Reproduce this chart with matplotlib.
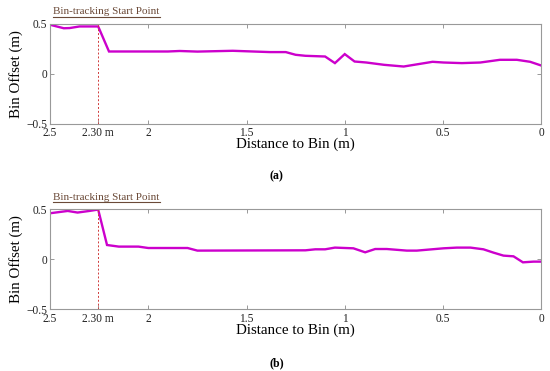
import numpy as np
import matplotlib
matplotlib.use('Agg')
import matplotlib.pyplot as plt
from matplotlib.lines import Line2D

plt.rcParams['font.family'] = ['Liberation Serif', 'DejaVu Serif']

# Panel (a): distance to bin (m) vs bin offset (m)
dist_a = [2.5, 2.46, 2.43, 2.40, 2.35, 2.255, 2.20, 1.90, 1.84, 1.75, 1.57, 1.38, 1.30, 1.25,
          1.20, 1.10, 1.05, 1.00, 0.95, 0.89, 0.80, 0.70, 0.625, 0.553, 0.497, 0.404, 0.31,
          0.21, 0.124, 0.056, 0.0]
offset_a = [0.49, 0.47, 0.455, 0.457, 0.473, 0.473, 0.223, 0.223, 0.228, 0.222, 0.23, 0.217,
            0.217, 0.19, 0.18, 0.173, 0.107, 0.197, 0.123, 0.113, 0.09, 0.073, 0.097, 0.12,
            0.113, 0.107, 0.113, 0.14, 0.14, 0.12, 0.083]

# Panel (b)
dist_b = [2.5, 2.41, 2.36, 2.30, 2.255, 2.21, 2.15, 2.05, 2.0, 1.80, 1.75, 1.20, 1.15, 1.10,
          1.05, 0.956, 0.896, 0.845, 0.786, 0.684, 0.633, 0.497, 0.43, 0.36, 0.294, 0.243,
          0.192, 0.141, 0.093, 0.039, 0.0]
offset_b = [0.46, 0.483, 0.467, 0.483, 0.497, 0.143, 0.127, 0.127, 0.113, 0.113, 0.087, 0.09,
            0.10, 0.10, 0.117, 0.11, 0.07, 0.103, 0.103, 0.087, 0.087, 0.11, 0.117, 0.117,
            0.10, 0.067, 0.037, 0.03, -0.03, -0.023, -0.023]

start_point = 2.255
x_ticks = [2.5, start_point, 2, 1.5, 1, 0.5, 0]
x_labels = ['2.5', '2.30 m', '2', '1.5', '1', '0.5', '0']
y_ticks = [-0.5, 0, 0.5]
y_labels = ['\u22120.5', '0', '0.5']

fig = plt.figure(figsize=(5.5, 3.71), dpi=100)

panels = [
    (dist_a, offset_a, [0.091, 0.666, 0.893, 0.270], '(a)', 0.525),
    (dist_b, offset_b, [0.091, 0.166, 0.893, 0.270], '(b)', 0.022),
]

for dist, offset, rect, tag, tag_y in panels:
    ax = fig.add_axes(rect)
    ax.plot(dist, offset, color='#cc00cc', linewidth=1.7, solid_joinstyle='miter')
    ax.axvline(start_point, color='#d03a3a', linestyle=(0, (2, 2)), linewidth=0.7)
    ax.set_xlim(2.5, 0)
    ax.set_ylim(-0.5, 0.5)
    ax.set_xticks(x_ticks)
    ax.set_xticklabels(x_labels)
    ax.set_yticks(y_ticks)
    ax.set_yticklabels(y_labels)
    ax.tick_params(direction='in', length=3, width=0.6, color='#888888', labelsize=8.3,
                   top=True, right=True, pad=2.5, labelcolor='#222222')
    ax.tick_params(axis='y', pad=2)
    for s in ax.spines.values():
        s.set_color('#999999')
        s.set_linewidth(0.8)
    ax.set_xlabel('Distance to Bin (m)', fontsize=10.8, labelpad=-1)
    ax.set_ylabel('Bin Offset (m)', fontsize=10.8, labelpad=2)

    # underlined caption above the axes
    top = rect[1] + rect[3]
    fig.text(0.096, top + 0.025, 'Bin-tracking Start Point', fontsize=8,
             color='#6b4a38', ha='left', va='baseline')
    fig.add_artist(Line2D([0.096, 0.29], [top + 0.019, top + 0.019],
                          color='#6b4a38', linewidth=0.8, transform=fig.transFigure))

    fig.text(0.503, tag_y, tag, fontsize=8.5, ha='center', va='center', fontweight='bold')

fig.savefig('out.png', dpi=100)
